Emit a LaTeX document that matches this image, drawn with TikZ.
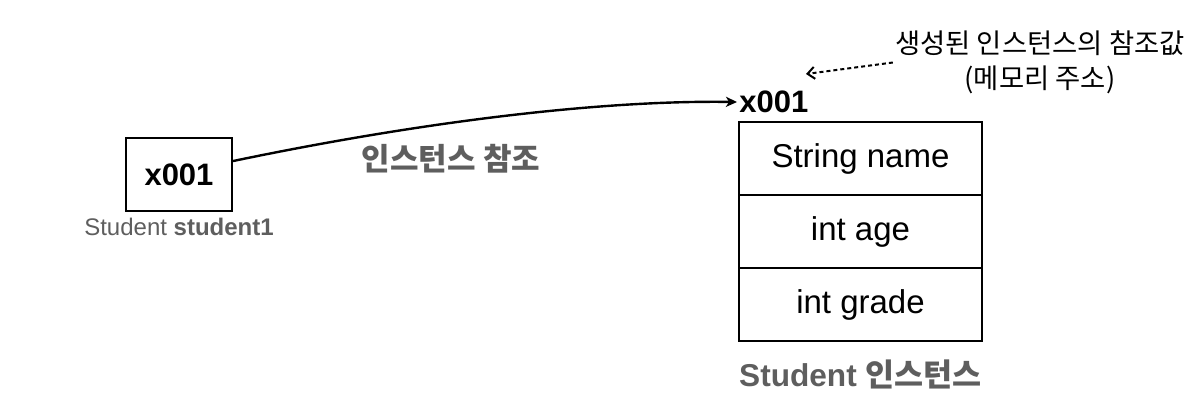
\documentclass[tikz,border=0pt]{standalone}
\usepackage{fontspec}
\setmainfont{Liberation Sans}
\newfontfamily\kr{Noto Sans CJK KR}
\usetikzlibrary{positioning,arrows.meta}
\definecolor{capgray}{HTML}{5E5E5E}

\begin{document}
\begin{tikzpicture}[
    field/.style={draw, rectangle, line width=0.6pt, minimum width=121.5pt, minimum height=36.5pt, outer sep=0pt, font=\fontsize{16.5pt}{19pt}\selectfont},
    caption/.style={text=capgray, inner sep=0pt}
]
    \useasboundingbox (0,0) rectangle (598.5pt,-202pt);

    \node (var) [draw, rectangle, line width=1pt, minimum width=53pt, minimum height=36.5pt, font=\fontsize{15.5pt}{18pt}\selectfont\bfseries] at (89.5pt,-87.25pt) {x001};
    \node (varname) [caption, below=3pt of var, font=\fontsize{12pt}{14pt}\selectfont] {Student \textbf{student1}};

    \node (name) [field] at (430.25pt,-79.25pt) {String name};
    \node (age) [field, below=0pt of name] {int age};
    \node (grade) [field, below=0pt of age] {int grade};
    \node (inst) [caption, below=9pt of grade, font=\fontsize{15.8pt}{18pt}\selectfont\bfseries] {Student {\kr 인스턴스}};

    \node (addr) [anchor=west, inner sep=1pt, font=\fontsize{15.5pt}{18pt}\selectfont\bfseries] at (368.5pt,-51pt) {x001};
    \node (ref) [caption, font=\kr\fontsize{15.5pt}{18pt}\selectfont\bfseries] at (225.5pt,-79.5pt) {인스턴스 참조};

    \node (note) [align=center, inner sep=1pt, font=\kr\fontsize{13.7pt}{17.5pt}\selectfont] at (520pt,-31.25pt) {생성된 인스턴스의 참조값\\(메모리 주소)};
    \coordinate (ptr) at (403pt,-37pt);

    % reference from the variable to the instance
    \draw [-{Stealth[length=5.5pt,width=5pt,inset=1.5pt]}, line width=1.2pt] (var.14) .. controls (210pt,-61pt) and (300pt,-50pt) .. (addr.west);
    \draw [-{Straight Barb[length=3.5pt,width=6pt]}, dash pattern=on 2pt off 1.5pt, line width=1pt] (note.west) -- (ptr);
\end{tikzpicture}
\end{document}
